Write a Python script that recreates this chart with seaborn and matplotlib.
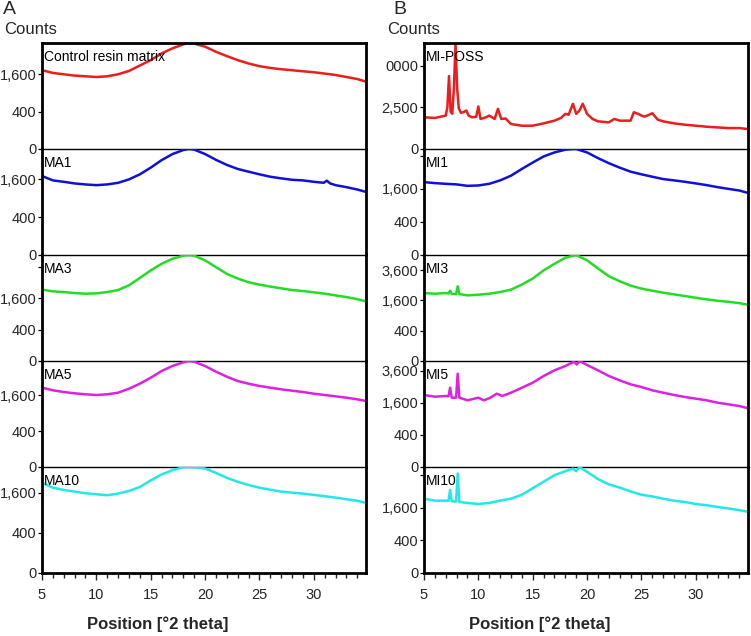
import numpy as np
import pandas as pd
import matplotlib
matplotlib.use("Agg")
import matplotlib.pyplot as plt
from matplotlib.ticker import MultipleLocator, FixedLocator, FixedFormatter
import seaborn as sns

# ---------------- data (counts vs position [°2θ]) ----------------
BASE_X = [5, 6, 7, 8, 9, 10, 11, 12, 13, 14, 15, 16, 17, 18, 18.5, 19,
          20, 21, 22, 23, 24, 25, 26, 27, 28, 29, 30, 31, 32, 33, 34, 34.8]

control_y = [1780, 1657, 1600, 1544, 1515, 1485, 1515, 1600, 1746, 1998, 2263, 2620, 2904, 3140,
             3220, 3180, 3000, 2710, 2473, 2263, 2096, 1965, 1884, 1823, 1778, 1732, 1688,
             1630, 1570, 1485, 1403, 1300]

ma1_x = [5, 6, 7, 8, 9, 10, 11, 12, 13, 14, 15, 16, 17, 18, 18.5, 19,
         20, 21, 22, 23, 24, 25, 26, 27, 28, 29, 30, 30.9, 31.2, 31.5, 32, 33, 34, 34.8]
ma1_y = [1740, 1553, 1495, 1429, 1389, 1361, 1389, 1454, 1595, 1816, 2130, 2510, 2842, 3075,
         3135, 3100, 2842, 2527, 2265, 2066, 1937, 1816, 1709, 1639, 1579, 1553, 1495,
         1455, 1540, 1430, 1361, 1284, 1197, 1110]

ma3_y = [2080, 1982, 1942, 1885, 1850, 1868, 1942, 2057, 2341, 2820, 3349, 3860, 4271, 4528,
         4589, 4528, 4137, 3600, 3100, 2778, 2532, 2385, 2261, 2158, 2057, 1999, 1925,
         1852, 1759, 1668, 1564, 1449]

ma5_y = [1942, 1815, 1736, 1676, 1631, 1600, 1631, 1704, 1892, 2142, 2461, 2844, 3149, 3383,
         3468, 3420, 3149, 2803, 2517, 2283, 2142, 2025, 1942, 1862, 1797, 1736, 1659,
         1600, 1542, 1483, 1413, 1344]

ma10_y = [2023, 1807, 1712, 1644, 1580, 1540, 1502, 1565, 1672, 1837, 2130, 2412, 2625, 2778,
          2790, 2778, 2711, 2490, 2250, 2067, 1922, 1807, 1724, 1644, 1604, 1565, 1514,
          1464, 1412, 1353, 1293, 1223]

miposs_x = [5, 6, 7, 7.15, 7.3, 7.45, 7.6, 7.75, 7.9, 8.05, 8.2, 8.4, 8.6, 8.9, 9.1, 9.4, 9.8,
            10.0, 10.2, 10.7, 11.0, 11.5, 11.8, 12.1, 12.5, 13, 14, 15, 16, 17, 17.6, 18,
            18.3, 18.7, 19, 19.3, 19.6, 20, 20.5, 21, 22, 22.5, 23, 24, 24.3, 24.7, 25,
            25.3, 26, 26.5, 27, 28, 29, 30, 31, 32, 33, 34, 34.8]
miposs_y = [1458, 1401, 1620, 2537, 7710, 2000, 1800, 5300, 16300, 5300, 2400, 1900, 1960,
            2147, 1620, 1458, 1500, 2623, 1311, 1458, 1620, 1311, 2343, 1311, 1350, 906, 787,
            787, 953, 1166, 1401, 1790, 1700, 2970, 1790, 2147, 2970, 1790, 1311, 1110, 1030,
            1311, 1166, 1166, 1960, 1790, 1620, 1520, 1852, 1250, 1110, 953, 857, 787, 720,
            675, 636, 636, 576]

mi1_y = [1951, 1897, 1860, 1829, 1756, 1775, 1860, 2044, 2308, 2720, 3138, 3564, 3862, 4071,
         4110, 4125, 3862, 3447, 3096, 2802, 2550, 2390, 2249, 2117, 2044, 1967, 1881,
         1792, 1690, 1605, 1527, 1415]

mi3_x = [5, 6, 7, 7.25, 7.4, 7.55, 7.95, 8.1, 8.25, 9, 10, 11, 12, 13, 14, 15, 16, 17, 18,
         19, 20, 21, 22, 23, 24, 25, 26, 27, 28, 29, 30, 31, 32, 33, 34, 34.8]
mi3_y = [2013, 1975, 2013, 1990, 2156, 1960, 1950, 2434, 1955, 1878, 1916, 1975, 2073, 2220,
         2547, 2966, 3576, 4122, 4651, 4900, 4416, 3737, 3136, 2774, 2480, 2285, 2156, 2034,
         1936, 1840, 1745, 1654, 1582, 1530, 1460, 1377]

mi5_x = [5, 6, 7, 7.25, 7.4, 7.55, 7.95, 8.1, 8.25, 9, 10, 10.5, 11, 11.7, 12.2, 13, 14, 15,
         16, 17, 18, 18.8, 19.05, 19.3, 20, 21, 22, 23, 24, 25, 26, 27, 28, 29, 30, 31, 32,
         33, 34, 34.8]
mi5_y = [2025, 1931, 1969, 1950, 2456, 1880, 1876, 3400, 1876, 1738, 1876, 1738, 1843, 2099,
         1969, 2157, 2456, 2776, 3235, 3650, 3985, 4331, 4100, 4389, 4064, 3650, 3235, 2935,
         2670, 2500, 2296, 2157, 2025, 1914, 1824, 1738, 1615, 1535, 1453, 1345]

mi10_x = [5, 6, 7, 7.25, 7.4, 7.55, 7.95, 8.1, 8.25, 9, 10, 11, 12, 13, 14, 15, 16, 17, 18,
          18.7, 19, 19.3, 20, 21, 22, 23, 24, 25, 26, 27, 28, 29, 30, 31, 32, 33, 34, 34.8]
mi10_y = [2079, 1971, 1971, 1960, 2602, 1934, 1930, 3724, 1897, 1845, 1793, 1845, 1971, 2079,
          2305, 2703, 3138, 3607, 3902, 4100, 3902, 4230, 3850, 3322, 2959, 2747, 2500, 2305,
          2208, 2079, 1971, 1897, 1793, 1728, 1643, 1566, 1487, 1408]

labels_A = ["Control resin matrix", "MA1", "MA3", "MA5", "MA10"]
labels_B = ["MI-POSS", "MI1", "MI3", "MI5", "MI10"]
colors = ["#ee1c1c", "#1010dd", "#22dd22", "#e020e0", "#22e8e8"]

series_A = [(BASE_X, control_y), (ma1_x, ma1_y), (BASE_X, ma3_y), (BASE_X, ma5_y), (BASE_X, ma10_y)]
series_B = [(miposs_x, miposs_y), (BASE_X, mi1_y), (mi3_x, mi3_y), (mi5_x, mi5_y), (mi10_x, mi10_y)]

ticks_A = [[0, 400, 1600], [0, 400, 1600], [0, 400, 1600, 3600], [0, 400, 1600], [0, 400, 1600]]
ticklabels_A = [["0", "400", "1,600"], ["0", "400", "1,600"], ["0", "400", "1,600", ""],
                ["0", "400", "1,600"], ["0", "400", "1,600"]]
ticks_B = [[0, 2500, 10000], [0, 400, 1600, 3600], [0, 400, 1600, 3600],
           [0, 400, 1600, 3600], [0, 400, 1600, 3600]]
ticklabels_B = [["0", "2,500", "0000"], ["0", "400", "1,600", ""], ["0", "400", "1,600", "3,600"],
                ["0", "400", "1,600", "3,600"], ["0", "400", "1,600", ""]]
x_ticklabels = ["5", "10", "15", "20", "25", "30"]

# ---------------- style ----------------
sns.set_style("white")
plt.rcParams["font.family"] = ["Liberation Sans", "DejaVu Sans"]

W, H = 751, 636
fig = plt.figure(figsize=(W / 100, H / 100), dpi=100)

top_px, row_h = 43, 106
panels = [(42, 366), (424, 748)]


def draw_panel(left_px, right_px, series, labels, ticks, ticklabels):
    n = len(series)
    for i in range(n):
        y0 = top_px + i * row_h
        ax = fig.add_axes([left_px / W, 1 - (y0 + row_h) / H,
                           (right_px - left_px) / W, row_h / H])
        ax.patch.set_visible(False)
        xs, ys = series[i]
        df = pd.DataFrame({"pos": xs, "counts": ys})
        sns.lineplot(data=df, x="pos", y="counts", ax=ax, color=colors[i],
                     linewidth=1.8, estimator=None)
        ax.set_yscale("function", functions=(np.sqrt, np.square))
        ax.set_ylim(0, max(ys))
        ax.set_xlim(5, 34.8)
        ax.set_xlabel("")
        ax.set_ylabel("")
        ax.yaxis.set_major_locator(FixedLocator(ticks[i]))
        ax.yaxis.set_major_formatter(FixedFormatter(ticklabels[i]))
        ax.yaxis.set_minor_locator(FixedLocator([]))
        ax.tick_params(axis="y", which="major", left=True, length=3, width=0.9,
                       labelsize=10.5, pad=1, direction="out", color="black")
        ax.xaxis.set_major_locator(MultipleLocator(5))
        ax.xaxis.set_minor_locator(MultipleLocator(1))
        last = (i == n - 1)
        if last:
            ax.set_xticks([5, 10, 15, 20, 25, 30])
            ax.set_xticklabels(x_ticklabels)
            ax.tick_params(axis="x", which="major", bottom=True, length=5, width=1,
                           labelsize=10.5, pad=6, direction="out")
            ax.tick_params(axis="x", which="minor", bottom=True, length=3.5, width=1,
                           direction="out")
        else:
            ax.tick_params(axis="x", which="both", bottom=False, labelbottom=False)
        for s in ["left", "right"]:
            ax.spines[s].set_linewidth(2.0)
            ax.spines[s].set_color("black")
        ax.spines["top"].set_visible(i == 0)
        ax.spines["top"].set_linewidth(2.0)
        ax.spines["top"].set_color("black")
        ax.spines["bottom"].set_linewidth(2.0 if last else 1.0)
        ax.spines["bottom"].set_color("black")
        ax.text(0.006, 0.93, labels[i], transform=ax.transAxes, ha="left", va="top",
                fontsize=10, color="black")


draw_panel(*panels[0], series_A, labels_A, ticks_A, ticklabels_A)
draw_panel(*panels[1], series_B, labels_B, ticks_B, ticklabels_B)

# panel letters and titles
fig.text(3 / W, 1 - 10 / H, "A", fontsize=14, ha="left", va="center")
fig.text(393 / W, 1 - 10 / H, "B", fontsize=14, ha="left", va="center")
fig.text(4 / W, 1 - 30 / H, "Counts", fontsize=12, ha="left", va="center")
fig.text(387 / W, 1 - 30 / H, "Counts", fontsize=12, ha="left", va="center")
fig.text(158 / W, 1 - 624 / H, "Position [°2 theta]", fontsize=12, fontweight="bold",
         ha="center", va="center")
fig.text(540 / W, 1 - 624 / H, "Position [°2 theta]", fontsize=12, fontweight="bold",
         ha="center", va="center")

fig.savefig("out.png", dpi=100)
